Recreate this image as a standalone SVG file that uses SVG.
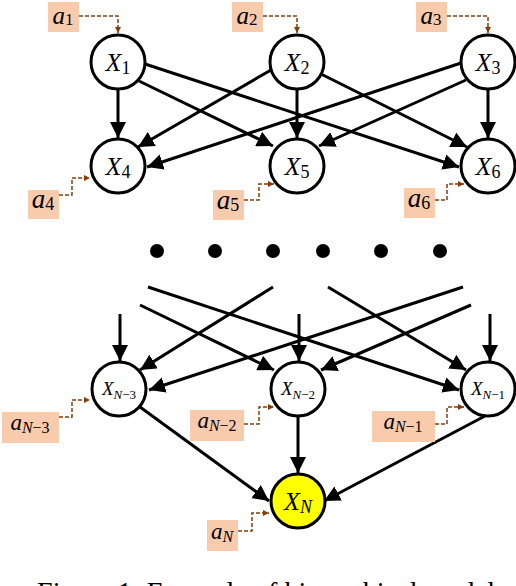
<svg xmlns="http://www.w3.org/2000/svg" width="516" height="586" viewBox="0 0 516 586">
<style>
.n{fill:#fff;stroke:#000;stroke-width:3}
.y{fill:#ffff00}
.e{stroke:#000;stroke-width:3;fill:none;marker-end:url(#ah)}
.d{stroke:#843c0c;stroke-width:1.5;stroke-dasharray:4 2;fill:none;marker-end:url(#bh)}
.b{fill:#f8cbad}
.i{font-style:italic}
</style>
<defs>
<marker id="ah" markerUnits="userSpaceOnUse" markerWidth="17" markerHeight="16" refX="16" refY="8" orient="auto"><path d="M0,0 L16,8 L0,16 Z" fill="#000"/></marker>
<marker id="bh" markerUnits="userSpaceOnUse" markerWidth="7" markerHeight="6" refX="6" refY="3" orient="auto"><path d="M0,0 L6,3 L0,6 Z" fill="#843c0c"/></marker>
</defs>
<g id="connectors">
<path class="e" d="M118,90 L118,138"/>
<path class="e" d="M139,81 L273,146"/>
<path class="e" d="M145,64 L459,167"/>
<path class="e" d="M271,70 L138,147"/>
<path class="e" d="M297,90 L297,138"/>
<path class="e" d="M321,74 L467,147"/>
<path class="e" d="M461,63 L147,167"/>
<path class="e" d="M466,80 L319,146"/>
<path class="e" d="M488,90 L488,138"/>
<path class="e" d="M148,287 L459,390"/>
<path class="e" d="M140,305 L274,370"/>
<path class="e" d="M273,287 L140,370"/>
<path class="e" d="M328,287 L466,370"/>
<path class="e" d="M463,287 L149,390"/>
<path class="e" d="M471,305 L321,370"/>
<path class="e" d="M120,314 L120,361"/>
<path class="e" d="M299,314 L299,361"/>
<path class="e" d="M490,314 L490,361"/>
<path class="e" d="M140,407 L269,501"/>
<path class="e" d="M298,417 L298,473"/>
<path class="e" d="M485,416 L324,501"/>
<path class="d" d="M79,16 H118 V33"/>
<path class="d" d="M263,16 H297 V33"/>
<path class="d" d="M447,16 H488 V33"/>
<path class="d" d="M59,195 H72 V178 H90"/>
<path class="d" d="M244,200 H259 V184 H274"/>
<path class="d" d="M435,200 H447 V184 H464"/>
<path class="d" d="M59,417 H72 V400 H90"/>
<path class="d" d="M244,424 H259 V407 H274"/>
<path class="d" d="M435,424 H447 V407 H464"/>
<path class="d" d="M238,531 H252 V513 H269"/>
</g>
<g id="dots" fill="#000">
<circle cx="157" cy="251" r="7"/><circle cx="215" cy="251" r="7"/><circle cx="273" cy="251" r="7"/>
<circle cx="323" cy="251" r="7"/><circle cx="381" cy="251" r="7"/><circle cx="440" cy="251" r="7"/>
</g>
<g font-family="'Liberation Serif','DejaVu Serif','Times New Roman',serif" fill="#000">
<g id="X1"><circle class="n" cx="118" cy="62" r="27"/><text x="118" y="71" text-anchor="middle"><tspan class="i" font-size="26">X</tspan><tspan font-size="18" dy="3">1</tspan></text></g>
<g id="X2"><circle class="n" cx="297" cy="62" r="27"/><text x="297" y="71" text-anchor="middle"><tspan class="i" font-size="26">X</tspan><tspan font-size="18" dy="3">2</tspan></text></g>
<g id="X3"><circle class="n" cx="488" cy="62" r="27"/><text x="488" y="71" text-anchor="middle"><tspan class="i" font-size="26">X</tspan><tspan font-size="18" dy="3">3</tspan></text></g>
<g id="X4"><circle class="n" cx="118" cy="166" r="27"/><text x="118" y="175" text-anchor="middle"><tspan class="i" font-size="26">X</tspan><tspan font-size="18" dy="3">4</tspan></text></g>
<g id="X5"><circle class="n" cx="297" cy="166" r="27"/><text x="297" y="175" text-anchor="middle"><tspan class="i" font-size="26">X</tspan><tspan font-size="18" dy="3">5</tspan></text></g>
<g id="X6"><circle class="n" cx="488" cy="166" r="27"/><text x="488" y="175" text-anchor="middle"><tspan class="i" font-size="26">X</tspan><tspan font-size="18" dy="3">6</tspan></text></g>
<g id="XN3"><circle class="n" cx="119" cy="389" r="27"/><text x="119" y="395" text-anchor="middle"><tspan class="i" font-size="19">X</tspan><tspan font-size="13" dy="4"><tspan class="i">N</tspan>−3</tspan></text></g>
<g id="XN2"><circle class="n" cx="298" cy="389" r="27"/><text x="298" y="395" text-anchor="middle"><tspan class="i" font-size="19">X</tspan><tspan font-size="13" dy="4"><tspan class="i">N</tspan>−2</tspan></text></g>
<g id="XN1"><circle class="n" cx="488" cy="389" r="27"/><text x="488" y="395" text-anchor="middle"><tspan class="i" font-size="19">X</tspan><tspan font-size="13" dy="4"><tspan class="i">N</tspan>−1</tspan></text></g>
<g id="XN"><circle class="n y" cx="298" cy="501" r="27"/><text x="298" y="510" text-anchor="middle"><tspan class="i" font-size="26">X</tspan><tspan class="i" font-size="18" dy="3">N</tspan></text></g>
<g id="a1"><rect class="b" x="48" y="2" width="31" height="30"/><text x="63" y="24" text-anchor="middle"><tspan class="i" font-size="25">a</tspan><tspan font-size="17" dy="1">1</tspan></text></g>
<g id="a2"><rect class="b" x="232" y="2" width="31" height="30"/><text x="247" y="24" text-anchor="middle"><tspan class="i" font-size="25">a</tspan><tspan font-size="17" dy="1">2</tspan></text></g>
<g id="a3"><rect class="b" x="416" y="2" width="31" height="30"/><text x="431" y="24" text-anchor="middle"><tspan class="i" font-size="25">a</tspan><tspan font-size="17" dy="1">3</tspan></text></g>
<g id="a4"><rect class="b" x="28" y="190" width="31" height="29"/><text x="43" y="208" text-anchor="middle"><tspan class="i" font-size="27">a</tspan><tspan font-size="18" dy="2">4</tspan></text></g>
<g id="a5"><rect class="b" x="213" y="190" width="31" height="30"/><text x="228" y="209" text-anchor="middle"><tspan class="i" font-size="27">a</tspan><tspan font-size="18" dy="2">5</tspan></text></g>
<g id="a6"><rect class="b" x="404" y="188" width="31" height="30"/><text x="419" y="207" text-anchor="middle"><tspan class="i" font-size="27">a</tspan><tspan font-size="18" dy="2">6</tspan></text></g>
<g id="aN3"><rect class="b" x="2" y="412" width="57" height="31"/><text x="30" y="430" text-anchor="middle"><tspan class="i" font-size="23">a</tspan><tspan font-size="16" dy="3"><tspan class="i">N</tspan>−3</tspan></text></g>
<g id="aN2"><rect class="b" x="190" y="410" width="54" height="31"/><text x="217" y="428" text-anchor="middle"><tspan class="i" font-size="23">a</tspan><tspan font-size="16" dy="3"><tspan class="i">N</tspan>−2</tspan></text></g>
<g id="aN1"><rect class="b" x="372" y="411" width="63" height="31"/><text x="403" y="429" text-anchor="middle"><tspan class="i" font-size="23">a</tspan><tspan font-size="16" dy="3"><tspan class="i">N</tspan>−1</tspan></text></g>
<g id="aN"><rect class="b" x="207" y="520" width="31" height="31"/><text x="222" y="539" text-anchor="middle"><tspan class="i" font-size="23">a</tspan><tspan class="i" font-size="16" dy="3">N</tspan></text></g>
<text x="37" y="601" font-size="28" textLength="458" lengthAdjust="spacing">Figure 1: Example of hierarchical model</text>
</g>
</svg>
